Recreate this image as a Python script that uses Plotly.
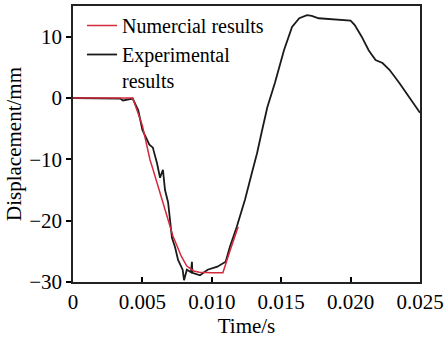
import plotly.graph_objects as go

# Numerical results (red)
num_t = [0.0, 0.0043, 0.0050, 0.00555, 0.00576, 0.00648, 0.0072, 0.0078, 0.0082, 0.0087, 0.0091, 0.0100, 0.0108, 0.0113, 0.0119]
num_d = [0.0, 0.0, -4.5, -10.1, -11.6, -17.0, -22.5, -25.8, -27.4, -28.2, -28.4, -28.5, -28.5, -25.0, -21.0]

# Experimental results (black)
exp_t = [0.0, 0.0020, 0.0034, 0.0036, 0.0043, 0.0047, 0.0050, 0.0055, 0.00576, 0.0058, 0.00605, 0.00627, 0.00648, 0.00663,
         0.00685, 0.00713, 0.00735, 0.00757, 0.0079, 0.0080, 0.0082, 0.0085, 0.00857, 0.0086, 0.00915, 0.0097, 0.0104,
         0.0110, 0.0113, 0.0118, 0.0124, 0.0129, 0.01326, 0.0136, 0.0140, 0.01455, 0.0152, 0.01578, 0.0163, 0.01686,
         0.0172, 0.0177, 0.0185, 0.0192, 0.0200, 0.0203, 0.0208, 0.0213, 0.0218, 0.0223, 0.0228, 0.0235, 0.0242, 0.0250]
exp_d = [0.0, 0.0, -0.1, -0.4, -0.1, -2.0, -5.2, -7.6, -8.1, -8.5, -10.6, -13.0, -11.7, -15.0,
         -17.0, -22.8, -24.3, -26.4, -28.0, -29.7, -28.0, -28.4, -26.7, -28.5, -28.9, -28.0, -27.5,
         -26.7, -24.3, -21.0, -16.5, -12.1, -9.0, -5.5, -1.5, 2.5, 7.8, 11.6, 13.0, 13.5,
         13.4, 13.0, 12.9, 12.7, 12.6, 11.9, 10.0, 7.8, 6.2, 5.7, 4.6, 2.5, 0.2, -2.4]

x_ticks = [0, 0.005, 0.010, 0.015, 0.020, 0.025]
x_labels = ["0", "0.005", "0.010", "0.015", "0.020", "0.025"]
y_ticks = [-30, -20, -10, 0, 10]
y_labels = ["\u221230", "\u221220", "\u221210", "0", "10"]

font = "Liberation Serif, Times New Roman, serif"

fig = go.Figure()
fig.add_trace(go.Scatter(x=exp_t, y=exp_d, mode="lines", name="Experimental<br>results",
                         line=dict(color="#1a1a1a", width=1.8), legendrank=2))
fig.add_trace(go.Scatter(x=num_t, y=num_d, mode="lines", name="Numercial results",
                         line=dict(color="#d42a3c", width=1.5), legendrank=1))

fig.update_layout(
    width=444, height=338,
    margin=dict(l=73, r=24, t=6, b=56, autoexpand=False),
    paper_bgcolor="white", plot_bgcolor="white",
    font=dict(family=font, size=21, color="black"),
    showlegend=True,
    legend=dict(x=0.026, y=1.0, xanchor="left", yanchor="top", bgcolor="rgba(0,0,0,0)",
                font=dict(family=font, size=20), itemwidth=30, valign="top",
                tracegroupgap=0),
    xaxis=dict(range=[0, 0.025], tickvals=x_ticks, ticktext=x_labels, ticks="inside", ticklen=5,
               tickwidth=1.5, tickcolor="black", showline=True, linecolor="#222", linewidth=1.5,
               mirror=True, showgrid=False, zeroline=False, tickfont=dict(size=21),
               title=dict(text="Time/s", font=dict(family=font, size=21), standoff=0)),
    yaxis=dict(range=[-30, 15], tickvals=y_ticks, ticktext=y_labels, ticks="outside", ticklen=5,
               tickwidth=1.5, tickcolor="black", showline=True, linecolor="#222", linewidth=1.5,
               mirror=True, showgrid=False, zeroline=False, tickfont=dict(size=21),
               title=dict(text="Displacement/mm", font=dict(family=font, size=21), standoff=2)),
)

fig.write_html("out.html")
